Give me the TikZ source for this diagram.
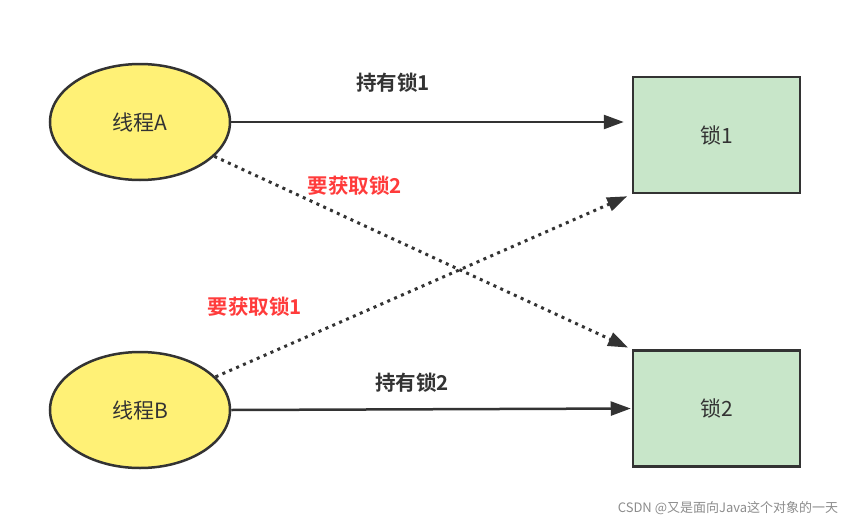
\documentclass[tikz,border=0pt]{standalone}
\usepackage{fontspec}
\setmainfont{Noto Sans CJK SC}[BoldFont={Noto Sans CJK SC Bold}]
\usetikzlibrary{shapes.geometric,arrows.meta}
\definecolor{threadfill}{HTML}{FFF176}
\definecolor{lockfill}{HTML}{C8E6C9}
\definecolor{edge}{HTML}{333333}
\definecolor{want}{HTML}{FF3B3B}
\tikzset{
  thread/.style={ellipse, fill=threadfill, draw=edge, line width=2.5pt, minimum width=180pt, minimum height=116pt, inner sep=0pt, text=edge, font=\fontsize{21}{24}\selectfont},
  lock/.style={rectangle, fill=lockfill, draw=edge, line width=2.5pt, minimum width=167pt, minimum height=116pt, inner sep=0pt, text=edge, font=\fontsize{21}{24}\selectfont},
  hold/.style={draw=edge, line width=2.5pt, -{Triangle[length=20pt,width=14pt]}},
  request/.style={draw=edge, line width=3pt, dash pattern=on 3pt off 4.5pt, -{Triangle[length=20pt,width=14pt]}},
  holdlabel/.style={text=edge, font=\fontsize{20.5}{23}\selectfont\bfseries},
  wantlabel/.style={text=want, font=\fontsize{20.5}{23}\selectfont\bfseries}
}
\begin{document}
\begin{tikzpicture}[x=1pt, y=-1pt]
  \useasboundingbox (0,0) rectangle (852,525);
  \node[thread] (ta) at (140,122) {线程A};
  \node[thread] (tb) at (140,410) {线程B};
  \node[lock] (l1) at (716.5,135) {锁1};
  \node[lock] (l2) at (716.5,408.5) {锁2};
  % arrows
  \draw[hold, shorten >=8pt] (ta.east) -- (ta.east -| l1.west);
  \draw[hold, shorten >=1pt] (tb.east) -- (l2.west);
  \draw[request, shorten >=4pt] (ta) -- (l2.north west);
  \draw[request, shorten >=5pt] (tb) -- (l1.south west);
  % labels
  \node[holdlabel] (h1) at (393,83) {持有锁1};
  \node[holdlabel] (h2) at (412,383) {持有锁2};
  \node[wantlabel] (w2) at (355,186) {要获取锁2};
  \node[wantlabel] (w1) at (255,307) {要获取锁1};
  \node[text=black!45, font=\fontsize{13}{15}\selectfont] (mark) at (728,508) {CSDN @又是面向Java这个对象的一天};
\end{tikzpicture}
\end{document}
